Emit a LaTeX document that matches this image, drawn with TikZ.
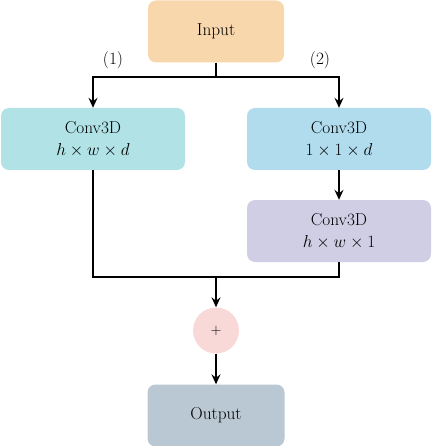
\documentclass[tikz,border=0pt]{standalone}
\usepackage{fontspec}
\usetikzlibrary{arrows.meta}
\definecolor{cin}{HTML}{F9D7AD}
\definecolor{cone}{HTML}{B0E2E6}
\definecolor{ctwo}{HTML}{B0DCEE}
\definecolor{cthree}{HTML}{D0CEE4}
\definecolor{cplus}{HTML}{F8D9D8}
\definecolor{cout}{HTML}{BAC8D3}
\begin{document}
\begin{tikzpicture}[x=1pt,y=-1pt,
  box/.style={rounded corners=8pt, minimum height=62pt, align=center, font=\fontsize{17.28}{22}\selectfont, inner sep=0pt},
  conn/.style={line width=1.4pt, -{Stealth[length=10pt,width=9pt,inset=3.5pt]}},
  plain/.style={line width=1.4pt}]
\useasboundingbox (0,0) rectangle (432,446);
\node[box, fill=cin, minimum width=136pt] (in) at (216,31.5) {Input};
\node[box, fill=cone, minimum width=184pt] (c1) at (93,139) {Conv3D\\$h\times w\times d$};
\node[box, fill=ctwo, minimum width=184pt] (c2) at (339,139) {Conv3D\\$1\times 1\times d$};
\node[box, fill=cthree, minimum width=184pt] (c3) at (339,231) {Conv3D\\$h\times w\times 1$};
\node[circle, fill=cplus, minimum size=46pt, inner sep=0pt, font=\fontsize{14.4}{16}\selectfont] (plus) at (216,330.5) {$+$};
\node[box, fill=cout, minimum width=137pt, minimum height=62pt] (out) at (216,415.5) {Output};
\coordinate (split) at (216,77);
\coordinate (merge) at (216,277);
\node[font=\fontsize{17.28}{20}\selectfont] (l1) at (113,60) {(1)};
\node[font=\fontsize{17.28}{20}\selectfont] (l2) at (320,60) {(2)};
\draw[plain] (in.south) -- (split);
\draw[conn] (split) -| (c1.north);
\draw[conn] (split) -| (c2.north);
\draw[conn] (c2.south) -- (c3.north);
\draw[plain] (c1.south) |- (merge);
\draw[plain] (c3.south) |- (merge);
\draw[conn] (merge) -- (plus.north);
\draw[conn] (plus.south) -- (out.north);
\end{tikzpicture}
\end{document}
